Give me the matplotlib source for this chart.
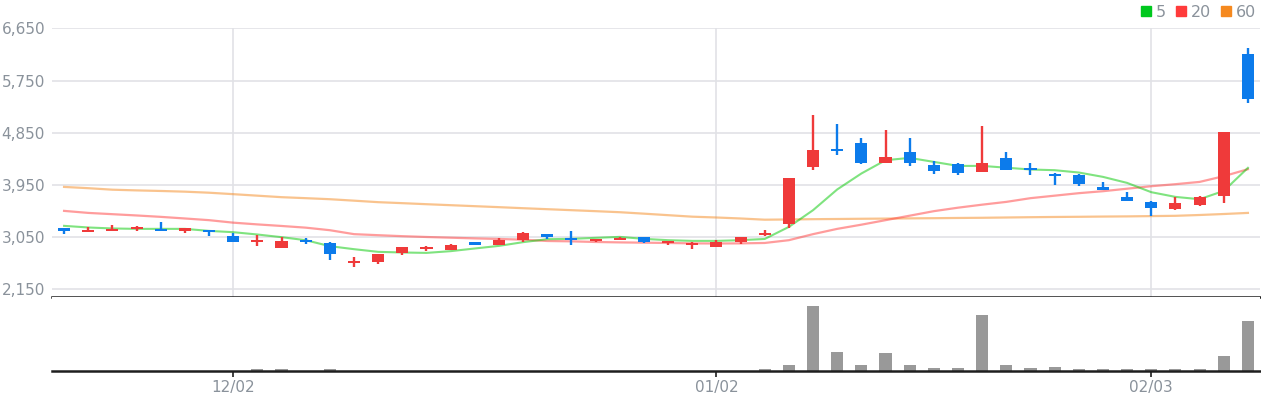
import matplotlib
matplotlib.use('Agg')
import matplotlib.pyplot as plt
from matplotlib.lines import Line2D
import numpy as np

# trading days shown (MM/DD)
dates = ['11/21', '11/22', '11/25', '11/26', '11/27', '11/28', '11/29',
         '12/02', '12/03', '12/04', '12/05', '12/06', '12/09', '12/10', '12/11',
         '12/12', '12/13', '12/16', '12/17', '12/18', '12/19', '12/20', '12/23',
         '12/24', '12/26', '12/27', '12/30',
         '01/02', '01/03', '01/06', '01/07', '01/08', '01/09', '01/10', '01/13',
         '01/14', '01/15', '01/16', '01/17', '01/20', '01/21', '01/22', '01/23',
         '01/24', '01/31',
         '02/03', '02/04', '02/05', '02/06', '02/07']

opens = [3201, 3142, 3159, 3189, 3189, 3159, 3177, 3068, 2970, 2867,
         2999, 2948, 2608, 2625, 2780, 2849, 2832, 2965, 2918, 2999,
         3103, 3034, 2982, 2999, 3051, 2948, 2918, 2884, 2965, 3085,
         3275, 4262, 4567, 4670, 4331, 4515, 4291, 4308, 4176, 4412,
         4239, 4136, 4124, 3912, 3740, 3654, 3538, 3607, 3762, 6203]
highs = [3201, 3218, 3258, 3245, 3309, 3206, 3177, 3125, 3085, 3051,
         3034, 2965, 2712, 2763, 2879, 2901, 2930, 2965, 3034, 3137,
         3103, 3154, 3016, 3051, 3051, 2982, 2965, 2999, 3051, 3171,
         4067, 5152, 4997, 4756, 4894, 4756, 4360, 4325, 4963, 4515,
         4325, 4153, 4141, 3998, 3826, 3671, 3740, 3757, 4860, 6306]
lows = [3108, 3142, 3159, 3154, 3159, 3125, 3073, 2965, 2901, 2867,
        2935, 2655, 2539, 2591, 2746, 2815, 2832, 2918, 2918, 2970,
        3011, 2918, 2965, 2999, 2948, 2918, 2849, 2884, 2935, 3068,
        3211, 4205, 4463, 4308, 4331, 4279, 4141, 4124, 4176, 4210,
        4124, 3952, 3935, 3866, 3676, 3418, 3516, 3590, 3642, 5364]
closes = [3159, 3171, 3194, 3223, 3159, 3206, 3142, 2965, 2999, 2982,
          2965, 2763, 2632, 2763, 2879, 2879, 2913, 2918, 2999, 3120,
          3056, 2999, 3016, 3034, 2965, 2982, 2948, 2965, 3051, 3120,
          4067, 4549, 4537, 4331, 4429, 4331, 4193, 4158, 4326, 4210,
          4210, 4107, 3969, 3866, 3676, 3556, 3637, 3740, 4860, 5428]

volumes = [0, 0, 0, 0, 0, 0, 0, 0, 28, 28,
           0, 28, 0, 0, 0, 0, 0, 0, 0, 0,
           0, 0, 0, 0, 0, 0, 0, 0, 0, 28,
           60, 653, 193, 60, 183, 68, 33, 33, 563, 60,
           33, 40, 28, 28, 28, 28, 28, 28, 153, 503]

ma5 = [3246, 3218, 3201, 3194, 3194, 3194, 3159, 3137, 3097, 3051,
       2999, 2896, 2844, 2798, 2787, 2780, 2810, 2856, 2901, 2965,
       3016, 3022, 3039, 3056, 3022, 2999, 2987, 2987, 2999, 3020,
       3228, 3516, 3873, 4148, 4377, 4417, 4348, 4279, 4279, 4248,
       4217, 4205, 4165, 4090, 3986, 3826, 3745, 3705, 3848, 4245]
ma20 = [3504, 3469, 3447, 3425, 3401, 3373, 3344, 3301, 3271, 3244,
        3215, 3171, 3103, 3085, 3068, 3054, 3042, 3030, 3020, 3008,
        2985, 2979, 2968, 2961, 2956, 2951, 2944, 2942, 2944, 2951,
        2999, 3103, 3194, 3266, 3344, 3421, 3499, 3559, 3611, 3659,
        3723, 3766, 3809, 3843, 3886, 3929, 3964, 4003, 4102, 4222]
ma60 = [3917, 3895, 3869, 3857, 3847, 3835, 3817, 3792, 3766, 3740,
        3723, 3705, 3680, 3654, 3637, 3619, 3602, 3585, 3568, 3550,
        3533, 3516, 3499, 3481, 3456, 3430, 3404, 3390, 3373, 3352,
        3356, 3361, 3364, 3368, 3371, 3375, 3378, 3382, 3385, 3390,
        3395, 3399, 3402, 3406, 3409, 3414, 3419, 3433, 3450, 3469]

price_ticks = [2150, 3050, 3950, 4850, 5750, 6650]

UP = '#ef3a3a'
DOWN = '#0c7beb'
LABEL = '#8a929b'
GRID = '#e1e2e6'

plt.rcParams['font.family'] = 'DejaVu Sans'

fig = plt.figure(figsize=(12.61, 4.0), dpi=100)
ax = fig.add_axes([52 / 1261, 103 / 400, 1208 / 1261, 268.7 / 400])
axv = fig.add_axes([52 / 1261, 28.7 / 400, 1208 / 1261, 74.3 / 400])

x = np.arange(len(dates))
o = np.array(opens)
c = np.array(closes)
colors = [UP if cc > oo else DOWN for oo, cc in zip(o, c)]

# moving averages
ax.plot(x, ma60, color='#f5891f', alpha=0.5, lw=1.6, zorder=2)
ax.plot(x, ma20, color='#ff3b3b', alpha=0.5, lw=1.6, zorder=2)
ax.plot(x, ma5, color='#00c800', alpha=0.5, lw=1.5, zorder=2)

# candles
ax.vlines(x, lows, highs, colors=colors, lw=1.7, zorder=3)
body_bottom = np.minimum(o, c)
body_height = np.maximum(np.abs(c - o), 28)
ax.bar(x, body_height, bottom=body_bottom, width=0.5, color=colors, zorder=4)

# month boundaries
month_idx = [i for i in range(1, len(dates)) if dates[i][:2] != dates[i - 1][:2]]

ax.set_xlim(-0.5, len(dates) - 0.5)
ax.set_ylim(2020, 6650)
ax.set_yticks(price_ticks)
ax.set_yticklabels([f'{v:,}' for v in price_ticks])
ax.set_xticks(month_idx)
ax.tick_params(axis='x', length=0, labelbottom=False)
ax.tick_params(axis='y', length=0, pad=5, labelsize=11, labelcolor=LABEL)
ax.grid(True, color=GRID, lw=1.2, zorder=0)
for s in ['top', 'right', 'left']:
    ax.spines[s].set_visible(False)
ax.spines['bottom'].set_color('#1e1e1e')
ax.spines['bottom'].set_linewidth(1.8)

# volume
axv.bar(x, volumes, width=0.5, color='#999999')
axv.set_xlim(-0.5, len(dates) - 0.5)
axv.set_ylim(0, max(volumes) * 1.14)
axv.set_yticks([])
axv.set_xticks(month_idx)
axv.set_xticklabels([dates[i] for i in month_idx])
axv.tick_params(axis='x', length=4, width=1.2, color='#1e1e1e', pad=2,
                labelsize=11, labelcolor=LABEL)
for s in ['top', 'right', 'left']:
    axv.spines[s].set_visible(False)
axv.spines['bottom'].set_color('#1e1e1e')
axv.spines['bottom'].set_linewidth(1.8)

# legend
handles = [Line2D([], [], marker='s', ls='', color=col, markersize=7.5)
           for col in ['#00c81e', '#ff3b3b', '#f5891f']]
leg = fig.legend(handles, ['5', '20', '60'], loc='upper right',
                 bbox_to_anchor=(1.0, 1.0), ncol=3, frameon=False, fontsize=11.5,
                 handlelength=0.7, handletextpad=0.25, columnspacing=0.6,
                 borderaxespad=0.1, borderpad=0.2)
for t in leg.get_texts():
    t.set_color(LABEL)

fig.savefig('out.png', dpi=100, facecolor='white')
